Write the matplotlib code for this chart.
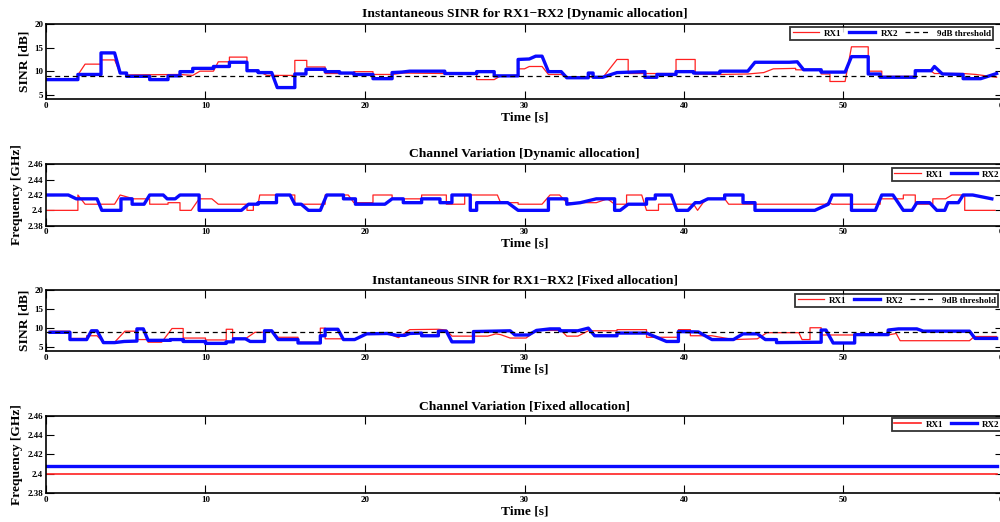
import matplotlib
matplotlib.use("Agg")
import matplotlib.pyplot as plt
import numpy as np

plt.rcParams['font.family'] = ['Liberation Serif', 'DejaVu Serif']
plt.rcParams['font.weight'] = 'bold'

# ---------------- data ----------------
# Panel 1: Instantaneous SINR, dynamic allocation
dyn_rx1_t = [0, 2.0, 2.0, 2.45, 3.45, 3.45, 4.3, 4.65, 5.05, 5.05, 8.4, 9.2, 9.65, 10.5, 10.8, 11.5, 11.5,
             12.6, 12.6, 13.3, 13.85, 15.6, 15.6, 16.35, 16.35, 17.5, 17.5, 19.3, 19.3, 20.5, 20.5, 21.7,
             22.4, 25.0, 27.0, 27.0, 28.1, 28.5, 29.6, 29.6, 30.0, 30.3, 31.1, 31.5, 32.3, 32.65, 34.0,
             34.9, 35.8, 36.5, 36.5, 39.5, 39.5, 40.7, 40.7, 42.25, 44.0, 45.0, 45.6, 47.0, 47.0, 48.6,
             48.6, 49.15, 49.15, 50.1, 50.5, 51.55, 51.55, 52.4, 52.4, 54.5, 54.5, 55.5, 55.7, 57.5,
             58.3, 59.6]
dyn_rx1_v = [8.4, 8.4, 9.2, 11.5, 11.5, 12.4, 12.4, 9.6, 9.6, 9.2, 9.3, 9.1, 10.0, 10.0, 12.0, 12.0, 13.0,
             13.0, 10.0, 10.0, 9.1, 9.1, 12.3, 12.3, 10.9, 10.9, 9.5, 9.5, 9.9, 9.9, 9.3, 9.3,
             9.6, 9.5, 9.5, 8.2, 8.2, 9.0, 9.1, 10.5, 10.5, 11.0, 11.0, 9.3, 9.3, 8.8, 8.8,
             8.6, 12.5, 12.5, 9.5, 9.5, 12.5, 12.5, 9.4, 9.3, 9.4, 9.7, 10.5, 10.6, 10.3, 10.2,
             9.4, 9.4, 7.8, 7.8, 15.2, 15.2, 10.0, 10.0, 8.9, 8.9, 10.0, 10.0, 9.5, 9.5,
             9.3, 8.7]
dyn_rx2_t = [0, 2.0, 2.0, 3.45, 3.45, 4.3, 4.65, 5.05, 5.05, 6.5, 6.5, 7.65, 7.65, 8.4, 8.4, 9.2, 9.2,
             10.5, 10.5, 11.5, 11.5, 12.6, 12.6, 13.3, 13.3, 14.15, 14.5, 15.6, 15.6, 16.3, 16.3, 17.5,
             17.5, 18.4, 18.4, 19.3, 19.3, 20.5, 20.5, 21.7, 21.7, 22.3, 22.8, 25.0, 25.0, 27.0, 27.0,
             28.1, 28.1, 29.6, 29.6, 30.3, 30.7, 31.1, 31.5, 32.3, 32.65, 34.0, 34.0, 34.3, 34.3, 34.9,
             35.8, 37.55, 37.55, 38.3, 38.3, 39.5, 39.5, 40.6, 40.6, 42.25, 42.25, 44.0, 44.45, 46.6,
             47.1, 47.5, 48.6, 48.6, 50.1, 50.5, 51.55, 51.55, 52.3, 52.3, 54.5, 54.5, 55.5, 55.7,
             56.2, 57.5, 57.5, 58.6, 59.6]
dyn_rx2_v = [8.2, 8.2, 9.3, 9.3, 13.9, 13.9, 9.6, 9.6, 8.9, 8.9, 8.2, 8.2, 9.0, 9.0, 9.9, 9.9, 10.6,
             10.6, 11.0, 11.0, 11.9, 11.9, 10.1, 10.1, 9.7, 9.7, 6.5, 6.5, 9.4, 9.4, 10.4, 10.4,
             9.9, 9.9, 9.6, 9.6, 9.3, 9.3, 8.4, 8.4, 9.7, 9.8, 10.0, 10.0, 9.5, 9.5, 9.9,
             9.9, 9.0, 9.0, 12.5, 12.6, 13.2, 13.2, 9.9, 9.9, 8.6, 8.6, 9.6, 9.6, 8.7, 8.7,
             9.7, 9.9, 8.7, 8.7, 9.3, 9.3, 9.9, 9.9, 9.6, 9.6, 10.0, 10.0, 11.9, 11.9,
             12.0, 10.3, 10.3, 9.8, 9.8, 13.1, 13.1, 9.4, 9.4, 8.7, 8.7, 10.1, 10.1, 11.0,
             9.4, 9.3, 8.4, 8.4, 9.5]

# Panel 2: Channel variation, dynamic allocation (GHz)
ch_dyn_rx1_t = [0, 2.0, 2.0, 2.45, 4.3, 4.65, 5.5, 6.5, 6.5, 7.65, 7.65, 8.4, 8.4, 9.1, 9.6, 10.4,
                10.8, 12.6, 12.6, 13.0, 13.0, 13.3, 13.4, 15.6, 15.6, 17.5, 17.5, 18.95, 19.3, 20.5,
                20.5, 21.7, 21.7, 23.55, 23.55, 25.1, 25.1, 26.25, 26.25, 28.3, 28.5, 29.6, 29.6,
                31.1, 31.6, 32.2, 32.65, 34.5, 35.2, 35.65, 36.4, 36.4, 37.35, 37.65, 38.4, 38.4,
                40.6, 40.85, 41.2, 41.5, 42.55, 42.8, 48.85, 49.05, 49.3, 52.3, 52.3, 53.75, 53.75,
                54.5, 54.5, 55.6, 55.6, 56.4, 56.8, 57.6, 57.6, 59.5]
ch_dyn_rx1_v = [2.40, 2.40, 2.42, 2.408, 2.408, 2.42, 2.415, 2.415, 2.408, 2.408, 2.41, 2.41, 2.40,
                2.40, 2.415, 2.415, 2.408, 2.408, 2.40, 2.40, 2.408, 2.408, 2.42, 2.42, 2.408, 2.408,
                2.42, 2.42, 2.41, 2.41, 2.42, 2.42, 2.415, 2.415, 2.42, 2.42, 2.408, 2.408, 2.42,
                2.42, 2.41, 2.41, 2.408, 2.408, 2.42, 2.42, 2.41, 2.41, 2.415, 2.408, 2.408, 2.42,
                2.42, 2.40, 2.40, 2.408, 2.408, 2.40, 2.41, 2.415, 2.415, 2.408, 2.408, 2.41, 2.408,
                2.408, 2.415, 2.415, 2.42, 2.42, 2.408, 2.408, 2.415, 2.415, 2.42, 2.42, 2.40, 2.40]
ch_dyn_rx2_t = [0, 1.4, 1.9, 3.2, 3.5, 4.7, 4.7, 5.4, 5.4, 6.15, 6.5, 7.35, 7.6, 8.1, 8.4, 9.6, 9.6,
                12.25, 12.7, 13.3, 13.3, 14.45, 14.45, 15.3, 15.6, 16.0, 16.45, 17.2, 17.6, 18.65,
                18.65, 19.4, 19.4, 21.25, 21.7, 22.4, 22.4, 23.55, 23.55, 24.7, 24.7, 25.45, 25.45,
                26.6, 26.6, 27.0, 27.0, 28.95, 29.6, 31.5, 31.5, 32.65, 32.65, 33.5, 34.5, 35.65,
                35.65, 36.0, 36.5, 37.65, 37.65, 38.2, 38.2, 39.2, 39.55, 40.25, 40.7, 41.0, 41.5,
                42.55, 42.55, 43.7, 43.7, 44.45, 44.45, 48.2, 49.05, 49.3, 50.5, 50.5, 52.0, 52.4,
                53.1, 53.75, 54.3, 54.6, 55.4, 55.85, 56.35, 56.55, 57.2, 57.5, 58.1, 59.3]
ch_dyn_rx2_v = [2.42, 2.42, 2.415, 2.415, 2.40, 2.40, 2.415, 2.415, 2.408, 2.408, 2.42, 2.42, 2.415,
                2.415, 2.42, 2.42, 2.40, 2.40, 2.408, 2.408, 2.41, 2.41, 2.42, 2.42, 2.408, 2.408,
                2.40, 2.40, 2.42, 2.42, 2.415, 2.415, 2.408, 2.408, 2.415, 2.415, 2.41, 2.41, 2.415,
                2.415, 2.41, 2.41, 2.42, 2.42, 2.40, 2.40, 2.41, 2.41, 2.40, 2.40, 2.415, 2.415,
                2.408, 2.41, 2.415, 2.415, 2.40, 2.40, 2.408, 2.408, 2.415, 2.415, 2.42, 2.42, 2.40,
                2.40, 2.41, 2.41, 2.415, 2.415, 2.42, 2.42, 2.41, 2.41, 2.40, 2.40, 2.408, 2.42,
                2.42, 2.40, 2.40, 2.42, 2.42, 2.40, 2.40, 2.41, 2.41, 2.40, 2.40, 2.41, 2.41, 2.42,
                2.42, 2.415]

# Panel 3: Instantaneous SINR, fixed allocation
fix_rx1_t = [0.25, 1.5, 1.5, 2.55, 2.55, 3.2, 3.6, 4.3, 4.95, 5.7, 5.7, 6.4, 6.4, 7.25, 7.9, 8.6, 8.6,
             10.0, 10.0, 11.3, 11.3, 11.7, 11.7, 12.5, 13.1, 13.7, 14.15, 14.55, 15.8, 15.8, 17.2,
             17.2, 17.5, 17.5, 18.65, 19.35, 20.1, 21.4, 22.1, 22.8, 24.6, 25.1, 25.45, 27.7, 28.2,
             28.5, 29.1, 30.1, 30.75, 32.3, 32.65, 33.35, 34.0, 35.8, 35.8, 37.65, 37.65, 39.65,
             39.65, 40.4, 40.4, 41.75, 43.1, 44.6, 45.2, 47.2, 47.4, 47.9, 47.9, 48.6, 48.6, 52.8,
             53.3, 53.55, 57.9, 58.2, 59.6]
fix_rx1_v = [9.2, 9.2, 7.3, 7.3, 8.0, 8.0, 6.3, 6.3, 9.2, 9.2, 7.0, 7.0, 6.3, 6.3, 9.9, 9.9, 7.4,
             7.4, 6.9, 6.9, 9.7, 9.7, 7.2, 7.2, 8.9, 8.9, 9.3, 7.6, 7.6, 6.3, 6.3,
             10.0, 10.0, 7.2, 7.2, 7.0, 8.6, 8.6, 7.5, 9.6, 9.7, 9.5, 7.9, 7.9, 8.5,
             8.3, 7.4, 7.4, 9.4, 9.4, 7.9, 7.9, 9.3, 9.3, 9.6, 9.6, 7.6, 7.6,
             9.6, 9.6, 8.0, 8.0, 7.0, 7.2, 8.8, 8.8, 7.0, 7.0, 10.1, 10.1, 8.2, 8.2,
             8.6, 6.7, 6.7, 7.8, 7.8]
fix_rx2_t = [0.25, 1.5, 1.5, 2.55, 2.85, 3.2, 3.6, 4.3, 4.9, 5.7, 5.7, 6.1, 6.4, 7.8, 7.8, 8.6, 8.6,
             10.0, 10.0, 11.3, 11.3, 11.75, 11.75, 12.5, 12.8, 13.7, 13.7, 14.15, 14.55, 15.8, 15.8,
             17.2, 17.2, 17.5, 17.5, 18.3, 18.65, 19.35, 20.1, 21.4, 22.0, 22.5, 22.8, 23.55, 23.55,
             24.6, 24.6, 25.1, 25.45, 26.8, 26.8, 29.1, 29.4, 30.25, 30.75, 31.6, 32.2, 32.2, 33.35,
             34.0, 34.4, 35.8, 35.8, 37.65, 38.9, 39.65, 39.65, 40.9, 41.75, 43.1, 43.7, 44.6, 45.1,
             45.8, 45.8, 48.6, 48.6, 48.9, 49.35, 50.7, 50.7, 52.8, 52.8, 53.45, 54.6, 55.0, 57.9,
             58.25, 59.6]
fix_rx2_v = [8.9, 8.9, 7.0, 7.0, 9.3, 9.3, 6.2, 6.2, 6.5, 6.6, 9.8, 9.8, 6.8, 6.8, 7.0, 7.0, 6.5,
             6.5, 6.0, 6.0, 6.4, 6.4, 7.2, 7.2, 6.5, 6.5, 9.3, 9.3, 7.0, 7.0, 6.1,
             6.1, 8.0, 8.0, 9.7, 9.7, 7.0, 7.0, 8.5, 8.6, 8.1, 8.1, 8.6, 8.7, 8.0,
             8.0, 9.2, 9.2, 6.4, 6.4, 9.1, 9.3, 8.2, 8.2, 9.4, 9.8, 9.8, 9.3, 9.3,
             10.0, 8.0, 8.0, 8.7, 8.7, 6.5, 6.5, 9.1, 9.0, 7.0, 7.0, 8.5, 8.5, 7.0,
             7.0, 6.2, 6.3, 9.5, 9.5, 6.1, 6.1, 8.3, 8.3, 9.5, 9.8, 9.8, 9.2, 9.2,
             7.3, 7.3]

# Panel 4: Channel variation, fixed allocation (GHz)
ch_fix_t = [0, 59.6]
ch_fix_rx1_v = [2.40, 2.40]
ch_fix_rx2_v = [2.408, 2.408]

threshold_db = 9
xticks = [0, 10, 20, 30, 40, 50, 60]
sinr_ticks = [5, 10, 15, 20]
freq_ticks = [2.38, 2.40, 2.42, 2.44, 2.46]
freq_labels = ['2.38', '2.4', '2.42', '2.44', '2.46']

titles = ['Instantaneous SINR for RX1\u2212RX2 [Dynamic allocation]',
          'Channel Variation [Dynamic allocation]',
          'Instantaneous SINR for RX1\u2212RX2 [Fixed allocation]',
          'Channel Variation [Fixed allocation]']

# ---------------- figure ----------------
W, H = 1000, 522
fig = plt.figure(figsize=(W / 100, H / 100), dpi=100)

def px_axes(top, bottom, left=46, right=1003):
    return fig.add_axes([left / W, 1 - bottom / H, (right - left) / W, (bottom - top) / H])

ax1 = px_axes(24.3, 99.3)
ax2 = px_axes(164.3, 225.7)
ax3 = px_axes(290, 351)
ax4 = px_axes(416, 493)

RED = '#ff2020'
BLUE = '#0a0aff'
lw_red, lw_blue = 0.9, 2.4
tick_fs = 6.5
lab_fs = 9.7

def style(ax, title, ylabel, yt, ylab=None, ylim=None):
    ax.set_xlim(0, 60)
    ax.set_ylim(*ylim)
    ax.set_xticks(xticks)
    ax.set_xticklabels([str(x) for x in xticks], fontsize=tick_fs, fontweight='bold')
    ax.set_yticks(yt)
    ax.set_yticklabels(ylab if ylab else [str(v) for v in yt], fontsize=tick_fs, fontweight='bold')
    ax.tick_params(direction='in', length=6, width=0.8, top=True, right=True, pad=2)
    for s in ax.spines.values():
        s.set_linewidth(1.2)
        s.set_color('black')
    ax.set_title(title, fontsize=lab_fs, fontweight='bold', pad=5)
    ax.set_xlabel('Time [s]', fontsize=lab_fs, fontweight='bold', labelpad=1)
    ax.set_ylabel(ylabel, fontsize=lab_fs, fontweight='bold', labelpad=3)

def legend(ax, handles, labels, right_px, top_px, ncol):
    lg = ax.legend(handles, labels, loc='upper right', ncol=ncol,
                   bbox_to_anchor=(right_px / W, 1 - top_px / H), bbox_transform=fig.transFigure,
                   prop={'weight': 'bold', 'size': 6.5}, frameon=True, fancybox=False,
                   edgecolor='black', handlelength=2.9, handletextpad=0.6, columnspacing=0.8,
                   borderpad=0.25, borderaxespad=0)
    lg.get_frame().set_linewidth(1.3)
    return lg

# Panel 1
l1, = ax1.plot(dyn_rx1_t, dyn_rx1_v, color=RED, lw=lw_red, label='RX1')
l2, = ax1.plot(dyn_rx2_t, dyn_rx2_v, color=BLUE, lw=lw_blue, label='RX2')
l3 = ax1.axhline(threshold_db, color='black', lw=0.9, ls=(0, (4, 3)), label='9dB threshold')
style(ax1, titles[0], 'SINR [dB]', sinr_ticks, ylim=(4, 20))
legend(ax1, [l1, l2, l3], ['RX1', 'RX2', '9dB threshold'], 993, 27, 3)

# Panel 2
m1, = ax2.plot(ch_dyn_rx1_t, ch_dyn_rx1_v, color=RED, lw=lw_red)
m2, = ax2.plot(ch_dyn_rx2_t, ch_dyn_rx2_v, color=BLUE, lw=lw_blue)
style(ax2, titles[1], 'Frequency [GHz]', freq_ticks, freq_labels, ylim=(2.38, 2.46))
legend(ax2, [m1, m2], ['RX1', 'RX2'], 1002, 168, 2)

# Panel 3
n1, = ax3.plot(fix_rx1_t, fix_rx1_v, color=RED, lw=lw_red)
n2, = ax3.plot(fix_rx2_t, fix_rx2_v, color=BLUE, lw=lw_blue)
n3 = ax3.axhline(threshold_db, color='black', lw=0.9, ls=(0, (4, 3)))
style(ax3, titles[2], 'SINR [dB]', sinr_ticks, ylim=(4, 20))
legend(ax3, [n1, n2, n3], ['RX1', 'RX2', '9dB threshold'], 998, 294, 3)

# Panel 4
p1, = ax4.plot(ch_fix_t, ch_fix_rx1_v, color=RED, lw=lw_red + 0.3)
p2, = ax4.plot(ch_fix_t, ch_fix_rx2_v, color=BLUE, lw=lw_blue)
style(ax4, titles[3], 'Frequency [GHz]', freq_ticks, freq_labels, ylim=(2.38, 2.46))
legend(ax4, [p1, p2], ['RX1', 'RX2'], 1002, 418, 2)

fig.savefig('out.png', dpi=100)
